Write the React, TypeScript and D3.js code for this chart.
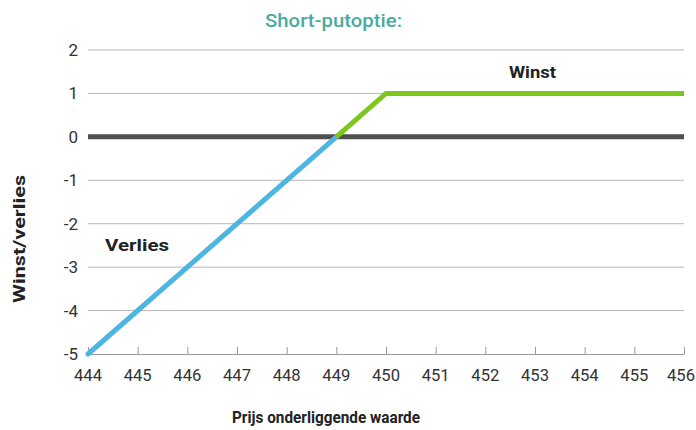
import * as d3 from 'd3'
import { useEffect, useRef } from 'react'

const xTicks = [444, 445, 446, 447, 448, 449, 450, 451, 452, 453, 454, 455, 456]
const yTicks = [2, 1, 0, -1, -2, -3, -4, -5]
// payoff short put: loss leg and profit leg
const lossX = [444, 449]
const lossY = [-5, 0]
const gainX = [449, 450, 456]
const gainY = [0, 1, 1]

export default function App() {
  const ref = useRef<SVGSVGElement | null>(null)

  useEffect(() => {
    const width = 696
    const height = 430
    const svg = d3.select(ref.current!)
    svg.selectAll('*').remove()

    const x = d3.scaleLinear().domain([444, 456]).range([88, 684])
    const y = d3.scaleLinear().domain([-5, 2]).range([354, 50])

    const font = 'Roboto, sans-serif'

    // title
    svg
      .append('text')
      .attr('x', 265)
      .attr('y', 27)
      .attr('font-family', font)
      .attr('font-size', 18)
      .attr('font-weight', 500)
      .attr('fill', '#4aab9f')
      .attr('textLength', 137)
      .attr('lengthAdjust', 'spacingAndGlyphs')
      .text('Short-putoptie:')

    // grid lines
    svg
      .append('g')
      .selectAll('line')
      .data(yTicks.filter((d) => d !== 0 && d !== -5))
      .join('line')
      .attr('x1', x(444))
      .attr('x2', x(456))
      .attr('y1', (d) => y(d))
      .attr('y2', (d) => y(d))
      .attr('stroke', '#b8b8b8')
      .attr('stroke-width', 1)

    // y labels
    svg
      .append('g')
      .selectAll('text')
      .data(yTicks)
      .join('text')
      .attr('x', 78)
      .attr('y', (d) => y(d) + 6)
      .attr('text-anchor', 'end')
      .attr('font-family', font)
      .attr('font-size', 17)
      .attr('fill', '#333')
      .text((d) => d)

    // x axis
    const xAxis = svg
      .append('g')
      .attr('transform', `translate(0,${y(-5)})`)
      .call(
        d3
          .axisTop(x)
          .tickValues(xTicks)
          .tickSize(7)
          .tickSizeOuter(0)
          .tickFormat(() => '')
      )
    xAxis.select('.domain').attr('stroke', '#999')
    xAxis.selectAll('.tick line').attr('stroke', '#999')

    // keep the last label inside the frame
    svg
      .append('g')
      .selectAll('text')
      .data(xTicks)
      .join('text')
      .attr('x', (d) => Math.min(x(d), width - 15))
      .attr('y', y(-5) + 27)
      .attr('text-anchor', 'middle')
      .attr('font-family', font)
      .attr('font-size', 17)
      .attr('fill', '#333')
      .attr('textLength', 28)
      .attr('lengthAdjust', 'spacingAndGlyphs')
      .text((d) => d)

    // zero line
    svg
      .append('line')
      .attr('x1', x(444))
      .attr('x2', x(456))
      .attr('y1', y(0))
      .attr('y2', y(0))
      .attr('stroke', '#4f4f4f')
      .attr('stroke-width', 5)

    const line = d3
      .line<[number, number]>()
      .x((d) => x(d[0]))
      .y((d) => y(d[1]))

    svg
      .append('path')
      .attr('d', line(lossX.map((v, i) => [v, lossY[i]] as [number, number])))
      .attr('fill', 'none')
      .attr('stroke', '#4db5e2')
      .attr('stroke-width', 5)
      .attr('stroke-linecap', 'round')

    svg
      .append('path')
      .attr('d', line(gainX.map((v, i) => [v, gainY[i]] as [number, number])))
      .attr('fill', 'none')
      .attr('stroke', '#7dc61e')
      .attr('stroke-width', 5)

    // annotations
    svg
      .append('text')
      .attr('x', 509)
      .attr('y', 78)
      .attr('font-family', font)
      .attr('font-size', 17)
      .attr('font-weight', 'bold')
      .attr('fill', '#222')
      .attr('textLength', 47)
      .attr('lengthAdjust', 'spacingAndGlyphs')
      .text('Winst')

    svg
      .append('text')
      .attr('x', 105)
      .attr('y', 251)
      .attr('font-family', font)
      .attr('font-size', 17)
      .attr('font-weight', 'bold')
      .attr('fill', '#222')
      .attr('textLength', 64)
      .attr('lengthAdjust', 'spacingAndGlyphs')
      .text('Verlies')

    // axis titles
    svg
      .append('text')
      .attr('transform', `translate(25,239) rotate(-90)`)
      .attr('text-anchor', 'middle')
      .attr('font-family', font)
      .attr('font-size', 17)
      .attr('font-weight', 'bold')
      .attr('fill', '#222')
      .attr('textLength', 128)
      .attr('lengthAdjust', 'spacingAndGlyphs')
      .text('Winst/verlies')

    svg
      .append('text')
      .attr('x', 232)
      .attr('y', 423)
      .attr('font-family', font)
      .attr('font-size', 17)
      .attr('font-weight', 'bold')
      .attr('fill', '#222')
      .attr('textLength', 188)
      .attr('lengthAdjust', 'spacingAndGlyphs')
      .text('Prijs onderliggende waarde')

    svg.attr('width', width).attr('height', height)
  }, [])

  return (
    <svg
      ref={ref}
      width={696}
      height={430}
      style={{ position: 'absolute', left: 0, top: 0, background: '#fff' }}
    />
  )
}
